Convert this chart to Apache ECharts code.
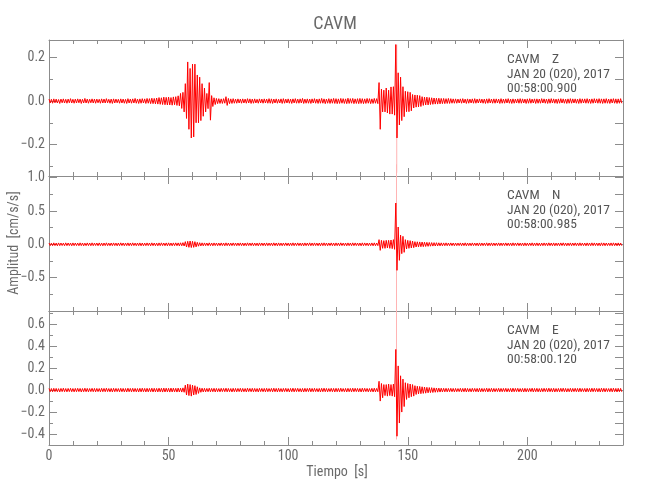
<!DOCTYPE html>
<html>
<head>
<meta charset="utf-8">
<script src="https://cdn.jsdelivr.net/npm/echarts@6/dist/echarts.min.js"></script>
<style>html,body{margin:0;padding:0;background:#fff}#c{width:650px;height:500px}</style>
</head>
<body>
<div id="c"></div>
<script>
// Envelope of each trace, one bin per second (t = 0..239 s), in thousandths of cm/s/s.
const zHi = [9,8,10,9,7,9,10,8,9,11, 8,9,10,9,8,12,9,8,10,9, 9,8,10,9,11,8,9,10,9,8, 10,9,8,11,9,10,12,9,10,11,
 10,12,11,13,12,14,16,15,18,17, 18,16,19,20,24,35,40,80,180,150, 170,170,120,110,80,60,35,85,25,15, 12,11,10,11,20,12,10,11,9,10,
 9,10,9,11,10,9,10,8,10,9, 10,9,11,10,9,10,8,10,11,9, 10,9,10,11,9,10,12,9,10,9, 10,11,9,10,12,10,9,11,10,12,
 11,10,12,11,10,13,11,12,10,11, 12,11,10,12,11,10,12,11,85,55, 50,60,50,65,66,260,130,110,66,45, 43,40,30,28,27,25,20,18,18,16,
 15,14,13,13,12,12,11,12,11,10, 10,9,10,11,9,10,9,10,11,9, 10,9,9,10,11,9,10,10,9,11, 9,10,11,9,10,9,10,11,10,9,
 10,11,9,10,10,9,11,10,9,10, 11,10,9,10,11,10,9,10,11,10, 10,9,11,10,10,11,9,10,11,10, 11,10,10,11,9,10,11,10,10,11];
const zLo = [-9,-10,-8,-9,-11,-8,-9,-10,-8,-9, -10,-9,-8,-11,-9,-9,-10,-8,-9,-10, -8,-10,-9,-9,-8,-10,-11,-9,-8,-10, -9,-10,-11,-9,-10,-9,-10,-11,-10,-9,
 -11,-10,-12,-12,-13,-14,-15,-16,-17,-18, -18,-19,-17,-20,-22,-34,-50,-80,-130,-170, -165,-100,-100,-90,-70,-50,-35,-88,-25,-16, -12,-11,-11,-10,-20,-12,-11,-10,-10,-9,
 -10,-9,-10,-9,-11,-10,-9,-10,-9,-10, -9,-10,-10,-11,-9,-10,-9,-11,-10,-9, -10,-11,-9,-10,-10,-9,-11,-10,-10,-11, -9,-10,-11,-10,-10,-12,-10,-11,-10,-11,
 -12,-11,-10,-11,-12,-11,-10,-12,-11,-12, -11,-12,-11,-10,-12,-11,-10,-12,-130,-50, -50,-55,-60,-60,-65,-170,-110,-90,-72,-49, -49,-45,-32,-28,-27,-25,-20,-18,-18,-16,
 -15,-14,-14,-13,-12,-12,-11,-11,-10,-10, -10,-9,-10,-9,-11,-10,-9,-10,-10,-9, -9,-10,-11,-10,-9,-10,-10,-9,-11,-10, -10,-9,-10,-11,-10,-9,-10,-10,-9,-11,
 -10,-10,-9,-11,-10,-10,-9,-10,-11,-10, -9,-10,-11,-10,-9,-10,-11,-10,-10,-9, -10,-11,-10,-9,-10,-10,-11,-10,-9,-10, -10,-11,-10,-10,-11,-9,-10,-11,-10,-10];

const nHi = [20,18,22,19,21,20,18,22,20,19, 21,20,19,22,20,18,21,20,22,19, 20,21,19,20,22,18,20,21,19,20, 22,20,19,21,20,22,19,20,21,20,
 19,21,20,22,20,19,21,22,20,21, 22,20,21,22,21,23,25,40,45,50, 45,40,30,24,22,21,20,22,20,21, 20,19,21,20,22,20,19,21,20,20,
 21,20,19,22,20,21,20,19,21,20, 20,21,19,20,22,20,21,19,20,21, 19,20,22,20,21,19,20,21,20,22, 20,21,19,20,21,22,20,19,21,20,
 21,20,22,19,20,21,20,22,21,20, 20,22,21,20,19,21,22,20,70,60, 55,60,60,65,70,620,260,140,120,70, 60,55,50,40,38,36,35,32,30,28,
 26,25,24,23,22,21,22,20,21,20, 20,19,21,20,22,20,19,21,20,20, 21,20,19,22,20,21,20,19,21,20, 20,21,19,20,22,20,21,19,20,21,
 19,20,22,20,21,19,20,21,20,22, 20,21,19,20,21,22,20,19,21,20, 21,20,22,19,20,21,20,22,21,20, 20,22,21,20,19,21,22,20,21,20];
const nLo = [-20,-21,-19,-22,-20,-18,-21,-20,-19,-22, -20,-19,-21,-20,-22,-20,-19,-21,-20,-18, -21,-20,-22,-19,-20,-21,-20,-19,-22,-20, -19,-21,-20,-22,-20,-19,-21,-20,-22,-21,
 -20,-19,-22,-20,-21,-22,-20,-19,-21,-22, -21,-22,-20,-21,-23,-22,-25,-40,-45,-48, -45,-38,-28,-24,-22,-20,-21,-20,-22,-19, -21,-20,-19,-22,-20,-21,-20,-19,-21,-20,
 -20,-22,-21,-19,-20,-21,-20,-22,-19,-20, -21,-20,-19,-21,-20,-22,-20,-21,-19,-20, -22,-20,-21,-19,-20,-21,-22,-20,-19,-21, -20,-19,-21,-22,-20,-20,-21,-19,-20,-22,
 -20,-21,-19,-20,-22,-20,-21,-20,-19,-21, -22,-20,-19,-21,-20,-22,-21,-20,-90,-60, -60,-55,-60,-65,-75,-390,-240,-140,-120,-70, -60,-55,-50,-40,-38,-36,-35,-32,-30,-28,
 -26,-25,-24,-23,-22,-21,-21,-20,-20,-21, -20,-19,-21,-20,-22,-20,-21,-19,-20,-22, -21,-20,-19,-22,-20,-21,-20,-19,-21,-20, -19,-21,-20,-22,-20,-19,-21,-20,-22,-21,
 -20,-19,-22,-20,-21,-22,-20,-19,-21,-20, -21,-22,-20,-21,-19,-20,-22,-20,-21,-19, -20,-21,-20,-19,-22,-20,-21,-20,-19,-21, -22,-20,-21,-19,-20,-21,-20,-22,-20,-21];

const eHi = [15,14,16,15,13,15,17,14,15,16, 14,15,16,15,14,17,15,14,16,15, 15,14,16,15,17,14,15,16,15,14, 16,15,14,17,15,16,15,14,16,17,
 15,16,15,17,16,15,17,16,18,17, 16,18,17,16,18,17,20,45,55,50, 45,40,30,20,17,16,15,17,15,16, 15,14,16,15,17,15,14,16,15,15,
 16,15,14,17,15,16,15,14,16,15, 15,16,14,15,17,15,16,14,15,16, 14,15,17,15,16,14,15,16,15,17, 15,16,14,15,16,17,15,14,16,15,
 16,15,17,14,15,16,15,17,16,15, 15,17,16,15,14,16,17,15,80,60, 50,50,55,50,55,370,220,130,100,67, 60,55,50,40,35,33,30,28,25,23,
 22,20,19,18,17,16,16,15,16,15, 15,14,16,15,17,15,14,16,15,15, 16,15,14,17,15,16,15,14,16,15, 15,16,14,15,17,15,16,14,15,16,
 14,15,17,15,16,14,15,16,15,17, 15,16,14,15,16,17,15,14,16,15, 16,15,17,14,15,16,15,17,16,15, 15,17,16,15,14,16,17,15,16,15];
const eLo = [-15,-16,-14,-15,-17,-14,-15,-16,-14,-15, -16,-15,-14,-17,-15,-15,-16,-14,-15,-16, -14,-16,-15,-15,-14,-16,-17,-15,-14,-16, -15,-16,-17,-15,-16,-15,-16,-17,-16,-15,
 -17,-16,-15,-17,-16,-17,-16,-18,-17,-16, -18,-17,-16,-18,-17,-18,-20,-45,-50,-55, -45,-40,-30,-20,-17,-16,-15,-16,-15,-17, -15,-16,-14,-15,-16,-15,-17,-15,-16,-14,
 -16,-15,-17,-14,-15,-16,-15,-17,-14,-15, -16,-15,-14,-16,-15,-17,-15,-16,-14,-15, -17,-15,-16,-14,-15,-16,-17,-15,-14,-16, -15,-14,-16,-17,-15,-15,-16,-14,-15,-17,
 -15,-16,-14,-15,-17,-15,-16,-15,-14,-16, -17,-15,-14,-16,-15,-17,-16,-15,-100,-70, -50,-55,-50,-55,-60,-420,-300,-200,-150,-85, -70,-60,-55,-40,-35,-33,-30,-28,-25,-23,
 -22,-20,-19,-18,-17,-16,-16,-15,-15,-16, -15,-14,-16,-15,-17,-15,-16,-14,-15,-17, -16,-15,-14,-17,-15,-16,-15,-14,-16,-15, -14,-16,-15,-17,-15,-14,-16,-15,-17,-16,
 -15,-14,-17,-15,-16,-17,-15,-14,-16,-15, -16,-17,-15,-16,-14,-15,-17,-15,-16,-14, -15,-16,-15,-14,-17,-15,-16,-15,-14,-16, -17,-15,-16,-14,-15,-16,-15,-17,-15,-16];

// Sharp peak of each trace (faint, sub-pixel excursion): time [s], top and bottom [cm/s/s]
const spikeT  = [145.4, 145.3, 145.3];
const spikeHi = [0.26, 1.20, 0.78];
const spikeLo = [-0.33, -0.95, -0.45];

// Axis ranges [cm/s/s] and tick settings
const yMin = [-0.345, -1.0, -0.5];
const yMax = [0.281, 1.025, 0.72];
const ySplit = [3, 4, 6];
const xMin = 0, xMax = 240, xStep = 50;
const components = ['Z', 'N', 'E'];
const startTimes = ['00:58:00.900', '00:58:00.985', '00:58:00.120'];
const station = 'CAVM';
const dateLine = 'JAN 20 (020), 2017';
const traces = [[zHi, zLo], [nHi, nLo], [eHi, eLo]];
const UNIT = 0.001;

const FONT = "'Liberation Sans Narrow', 'Roboto Condensed', 'DejaVu Sans Condensed', 'Liberation Sans', sans-serif";
const AX = '#8c8c8c';
const TXT = '#6a6a6a';

const gridTops = [40, 176, 311];
const gridHeights = [136, 135, 134];

function traceData(hi, lo) {
  const d = [];
  for (let i = 0; i < hi.length; i++) {
    d.push([i, hi[i] * UNIT]);
    d.push([i + 0.5, lo[i] * UNIT]);
  }
  return d;
}
const fmt = v => (v < 0 ? '\u2212' : '') + Math.abs(v).toFixed(1);

const grid = [], xAxis = [], yAxis = [], series = [], graphic = [];
for (let k = 0; k < 3; k++) {
  grid.push({ left: 49, right: 27, top: gridTops[k], height: gridHeights[k] });
  const common = {
    type: 'value', gridIndex: k, min: xMin, max: xMax, interval: xStep,
    axisLine: { show: true, onZero: false, lineStyle: { color: AX, width: 1 } },
    axisTick: { show: true, inside: true, length: 8, lineStyle: { color: AX } },
    minorTick: { show: true, splitNumber: 5, length: 4, lineStyle: { color: AX } },
    splitLine: { show: false }, minorSplitLine: { show: false }
  };
  xAxis.push(Object.assign({}, common, {
    position: 'bottom',
    axisLabel: { show: k === 2, color: TXT, fontFamily: FONT, fontSize: 14, margin: 4, showMaxLabel: false }
  }));
  xAxis.push(Object.assign({}, common, { position: 'top', axisLabel: { show: false } }));
  const ycommon = {
    type: 'value', gridIndex: k, min: yMin[k], max: yMax[k], splitNumber: ySplit[k],
    axisLine: { show: true, onZero: false, lineStyle: { color: AX, width: 1 } },
    splitLine: { show: false }, minorSplitLine: { show: false }
  };
  yAxis.push(Object.assign({}, ycommon, {
    position: 'left',
    axisTick: { show: true, inside: true, length: 8, lineStyle: { color: AX } },
    minorTick: { show: true, splitNumber: 2, length: 4, lineStyle: { color: AX } },
    axisLabel: { show: true, color: TXT, fontFamily: FONT, fontSize: 14, margin: 4,
      showMinLabel: false, showMaxLabel: false, formatter: fmt }
  }));
  yAxis.push(Object.assign({}, ycommon, {
    position: 'right',
    axisTick: { show: true, inside: true, length: 8, lineStyle: { color: AX } },
    minorTick: { show: true, splitNumber: 2, length: 8, lineStyle: { color: AX } },
    axisLabel: { show: false }
  }));
  series.push({
    type: 'line', xAxisIndex: 2 * k, yAxisIndex: 2 * k, z: 1, clip: false,
    symbol: 'none', silent: true, animation: false,
    lineStyle: { color: '#ffb4b4', width: 1 },
    data: [[spikeT[k], spikeHi[k]], [spikeT[k], spikeLo[k]]]
  });
  series.push({
    type: 'line', xAxisIndex: 2 * k, yAxisIndex: 2 * k, z: 2, clip: false,
    symbol: 'none', silent: true, animation: false, sampling: null,
    lineStyle: { color: '#ff0000', width: 1 },
    data: traceData(traces[k][0], traces[k][1])
  });
  const lines = [station + '    ' + components[k], dateLine, startTimes[k]];
  lines.forEach((s, j) => {
    graphic.push({ type: 'text', left: 507, top: gridTops[k] + 13 + j * 14.5, z: 10,
      style: { text: s, fill: '#555', font: '13.5px ' + FONT } });
  });
}
graphic.push({ type: 'text', x: 335, y: 24, z: 10,
  style: { text: station, fill: TXT, font: '18px ' + FONT, align: 'center', verticalAlign: 'middle' } });
graphic.push({ type: 'text', x: 337, y: 472, z: 10,
  style: { text: 'Tiempo  [s]', fill: TXT, font: '14px ' + FONT, align: 'center', verticalAlign: 'middle' } });
graphic.push({ type: 'text', x: 14, y: 243, rotation: Math.PI / 2, z: 10,
  style: { text: 'Amplitud  [cm/s/s]', fill: TXT, font: '14px ' + FONT, align: 'center', verticalAlign: 'middle' } });

const chart = echarts.init(document.getElementById('c'), null, { renderer: 'canvas' });
chart.setOption({ animation: false, backgroundColor: '#fff', grid, xAxis, yAxis, series, graphic });
</script>
</body>
</html>
